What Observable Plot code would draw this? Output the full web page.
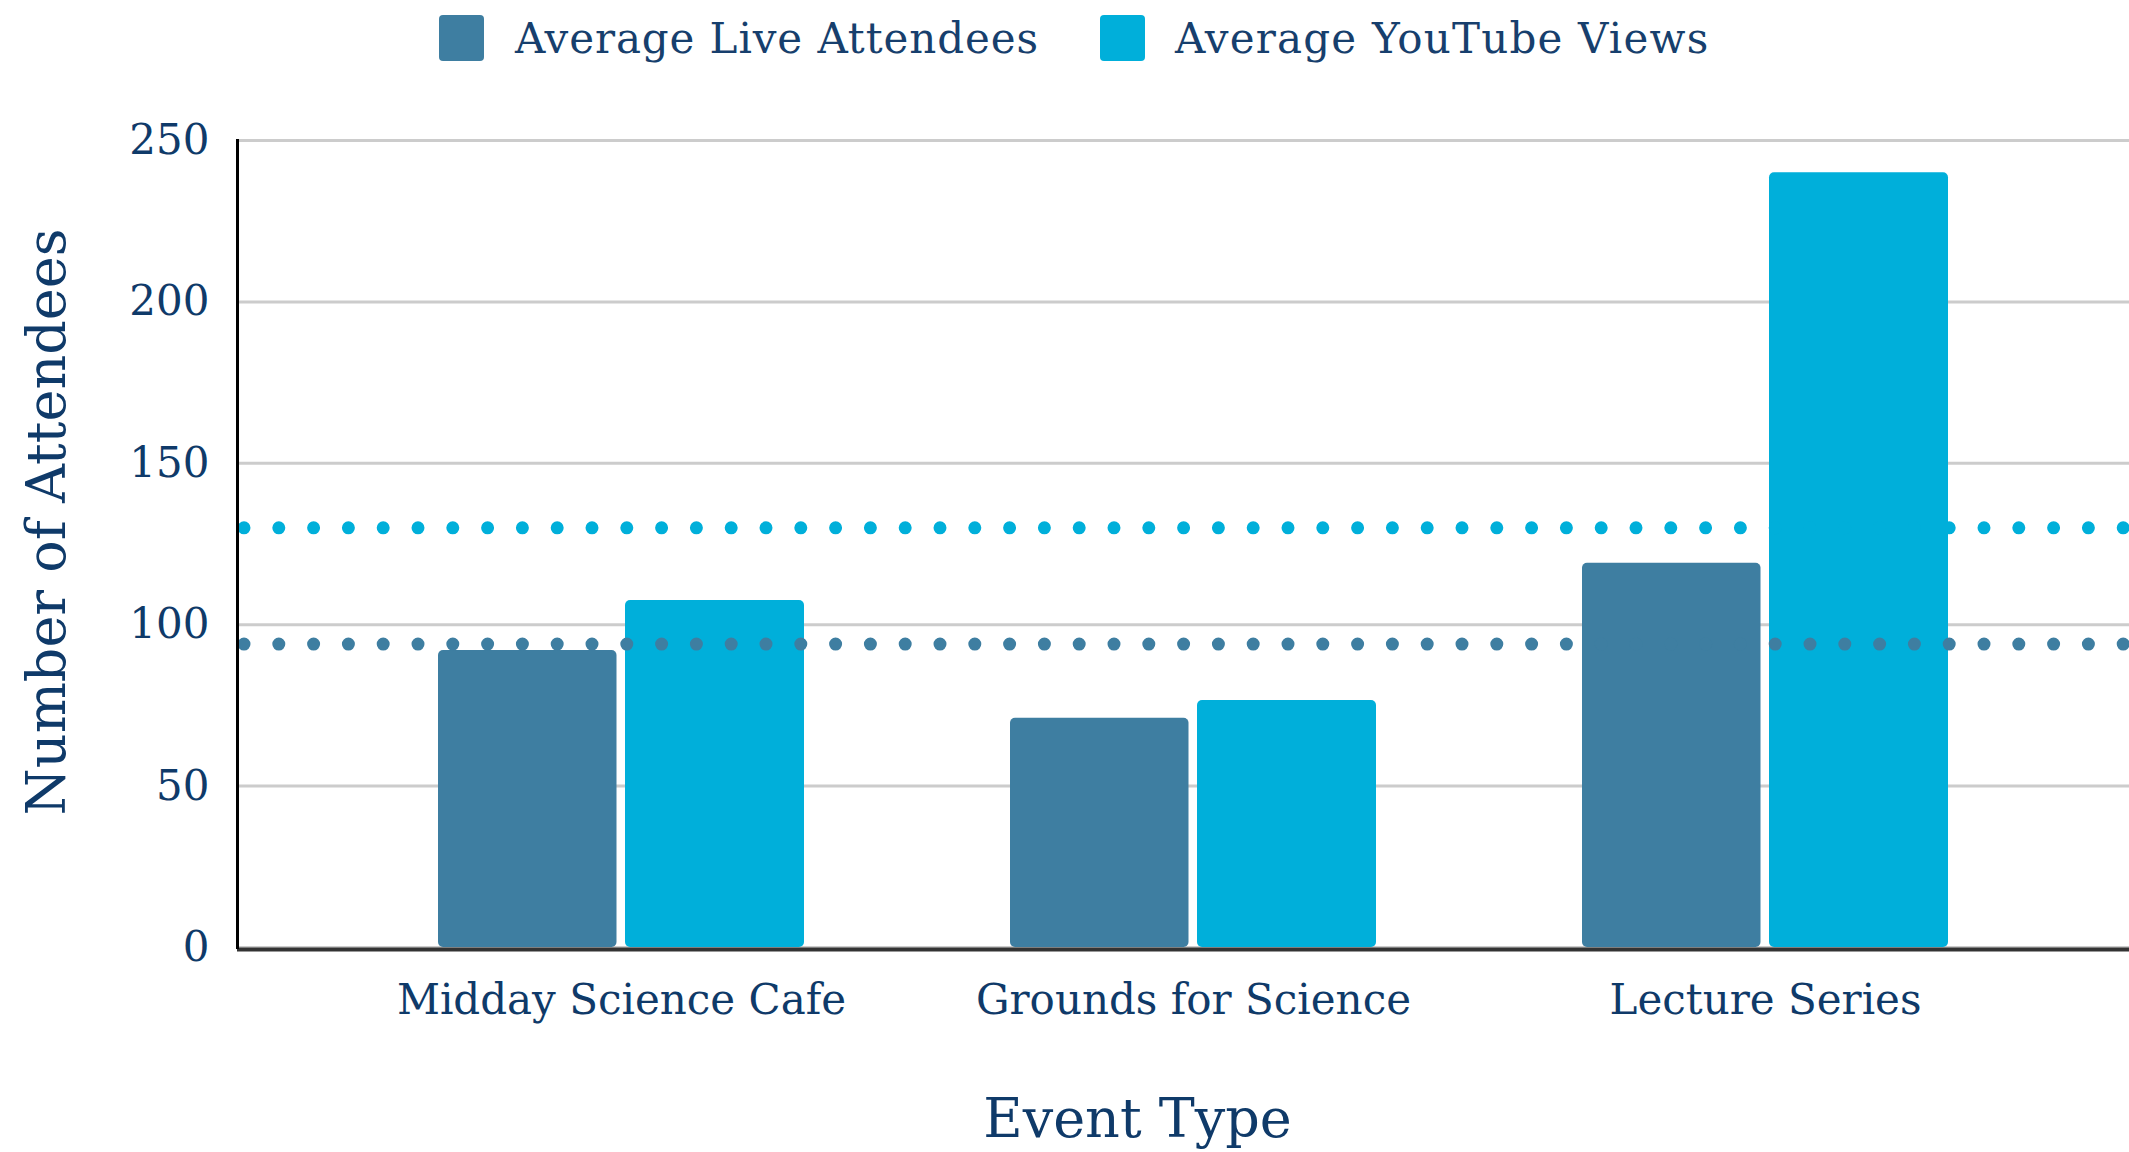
<!DOCTYPE html>
<html>
<head>
<meta charset="utf-8">
<script src="https://cdn.jsdelivr.net/npm/d3@7"></script>
<script src="https://cdn.jsdelivr.net/npm/@observablehq/plot@0.6"></script>
<style>
  html, body { margin: 0; padding: 0; background: #ffffff; }
  body { width: 2129px; height: 1152px; overflow: hidden; font-family: "DejaVu Serif", serif; }
  #legend { height: 76px; display: flex; align-items: center; padding-left: 439px; box-sizing: border-box; }
  .sw { width: 45px; height: 46px; border-radius: 4px; flex: none; }
  .lab { font-size: 42px; color: #173f6d; white-space: nowrap; letter-spacing: 0.9px; }
  #chart svg { display: block; }
</style>
</head>
<body>
<div id="legend"></div>
<div id="chart"></div>
<script>
const events = ["Midday Science Cafe", "Grounds for Science", "Lecture Series"];
const liveAttendees = [92, 71, 119];
const youtubeViews = [107.5, 76.5, 240];
const averageLive = 94;
const averageYouTube = 130;
const yTicks = [0, 50, 100, 150, 200, 250];
const seriesNames = ["Average Live Attendees", "Average YouTube Views"];
const seriesColors = ["#3e7ea1", "#00afda"];
const xTitle = "Event Type";
const yTitle = "Number of Attendees";

const textColor = "#0f3a69";

// legend
const legend = document.getElementById("legend");
seriesNames.forEach((name, i) => {
  const sw = document.createElement("div");
  sw.className = "sw";
  sw.style.background = seriesColors[i];
  sw.style.marginRight = i === 0 ? "31px" : "30px";
  const lab = document.createElement("div");
  lab.className = "lab";
  lab.textContent = name;
  if (i === 0) lab.style.marginRight = "61px";
  else lab.style.letterSpacing = "1.2px";
  legend.appendChild(sw);
  legend.appendChild(lab);
});

const table = events.map((e, i) => ({event: e, live: liveAttendees[i], youtube: youtubeViews[i]}));

const chart = Plot.plot({
  width: 2129,
  height: 1076,
  marginTop: 64,
  marginBottom: 205,
  marginLeft: 237,
  marginRight: 0,
  style: {fontFamily: "DejaVu Serif", fontSize: "42px", color: textColor, background: "#ffffff"},
  x: {domain: events, paddingInner: 0.361, paddingOuter: 0.333, align: 0.525, label: null},
  y: {domain: [0, 250], label: null},
  marks: [
    Plot.ruleY(yTicks, {stroke: "#cccccc", strokeWidth: 3}),
    Plot.barY(table, {x: "event", y: "live", fill: seriesColors[0], insetRight: 187.5, rx: 5}),
    Plot.barY(table, {x: "event", y: "youtube", fill: seriesColors[1], insetLeft: 187, rx: 5}),
    Plot.ruleY([averageYouTube], {stroke: seriesColors[1], strokeWidth: 13, strokeLinecap: "round", strokeDasharray: "0 34.8", strokeDashoffset: -7}),
    Plot.ruleY([averageLive], {stroke: seriesColors[0], strokeWidth: 13, strokeLinecap: "round", strokeDasharray: "0 34.8", strokeDashoffset: -7}),
    Plot.ruleY([0], {stroke: "#333333", strokeWidth: 4, dy: 2}),
    Plot.frame({anchor: "left", stroke: "#000000", strokeWidth: 3}),
    Plot.axisY({ticks: yTicks, tickSize: 0, tickPadding: 28, label: null, fontSize: 42, fill: textColor}),
    Plot.axisX({tickSize: 0, tickPadding: 37, label: null, fontSize: 42, fill: textColor}),
    Plot.text([yTitle], {text: d => d, frameAnchor: "left", textAnchor: "middle", lineAnchor: "middle", rotate: -90, dx: -190, dy: -22, fontSize: 54, fill: textColor}),
    Plot.text([xTitle], {text: d => d, frameAnchor: "bottom", textAnchor: "middle", lineAnchor: "middle", dx: -46, dy: 172, fontSize: 54, fill: textColor})
  ]
});
document.getElementById("chart").appendChild(chart);
</script>
</body>
</html>
